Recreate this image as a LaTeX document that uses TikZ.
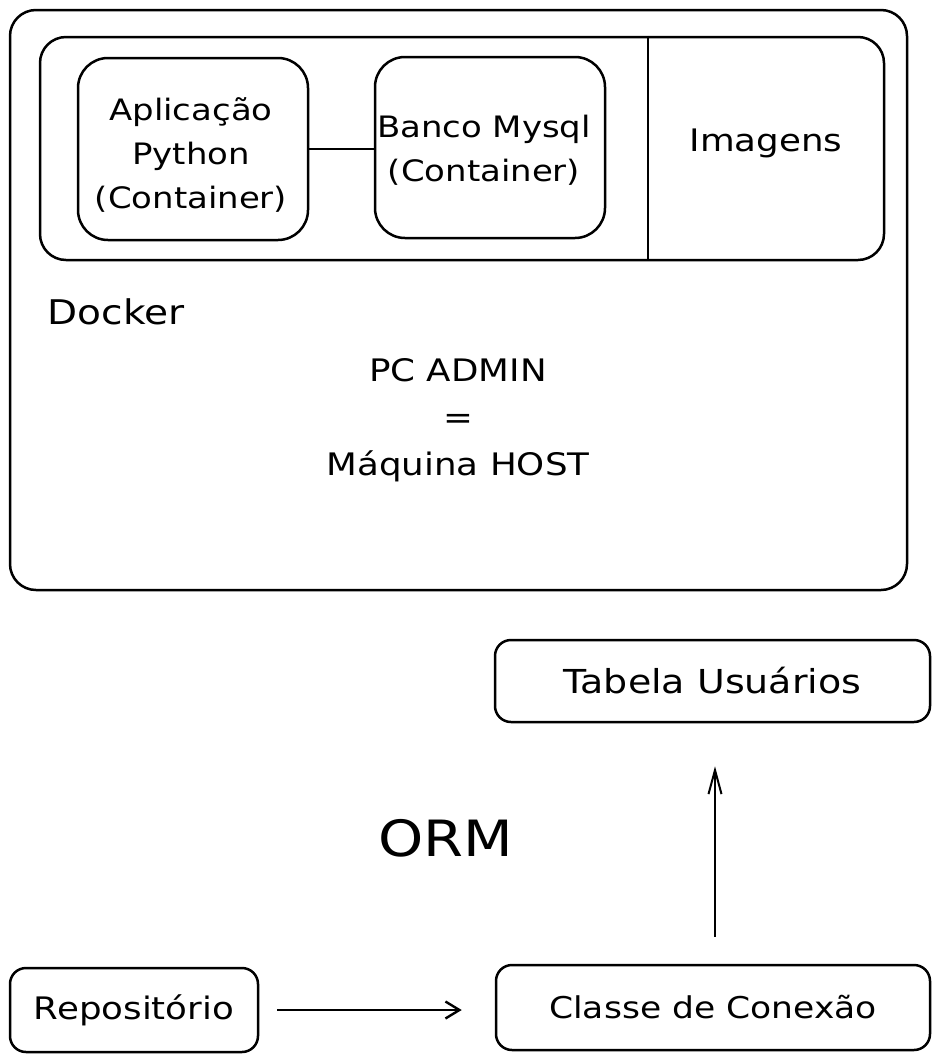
\documentclass[tikz,border=0pt]{standalone}
\usepackage{fontspec}
\setmainfont[FakeStretch=1.15]{DejaVu Sans}
\usetikzlibrary{arrows.meta}
\begin{document}
\begin{tikzpicture}[x=1pt,y=-1pt,
  box/.style={draw, line width=2.5pt, rounded corners=#1, inner sep=0pt},
  box/.default=22pt,
  lbl/.style={align=center, font=\fontsize{29.5}{44}\selectfont},
  conn/.style={line width=2.2pt},
  arr/.style={line width=2.4pt, -{Straight Barb[length=14pt,width=17pt,line width=2.4pt]}},
  arrup/.style={line width=2pt, -{Straight Barb[length=24pt,width=13pt,line width=2pt]}}]
\useasboundingbox (0,0) rectangle (939,1061);
% outer host
\node[box=26pt, minimum width=897pt, minimum height=580pt] (host) at (458.5,300) {};
% docker inner
\node[box=26pt, minimum width=844pt, minimum height=223pt] (docker) at (462,148.5) {};
\coordinate (divx) at (648,0);
\draw[line width=2.5pt] (docker.north -| divx) -- (docker.south -| divx);
% containers
\node[box=30pt, minimum width=230pt, minimum height=182pt] (app) at (193,149) {};
\node[box=30pt, minimum width=230pt, minimum height=181pt] (banco) at (490,147.5) {};
\node[lbl] (apptxt) at (191,155) {Aplicação\\Python\\(Container)};
\node[lbl] (bancotxt) at (484,150) {Banco Mysql\\(Container)};
\draw[conn] (app.east) -- (app.east -| banco.west);
\node[lbl, font=\fontsize{31}{44}\selectfont] (imagens) at (766,143) {Imagens};
% labels
\node[lbl, font=\fontsize{34}{44}\selectfont, anchor=west] (dockerlbl) at (44,312) {Docker};
\node[lbl, font=\fontsize{31}{47}\selectfont] (pc) at (458,420) {PC ADMIN\\=\\Máquina HOST};
% lower part
\node[box=16pt, minimum width=435pt, minimum height=82pt] (tabela) at (712.5,681) {};
\node[lbl, font=\fontsize{33}{44}\selectfont] (tabelatxt) at (tabela.center) {Tabela Usuários};
\node[box=16pt, minimum width=248pt, minimum height=84pt] (repo) at (134,1010) {};
\node[lbl, font=\fontsize{31}{44}\selectfont] (repotxt) at (repo.center) {Repositório};
\node[box=16pt, minimum width=434pt, minimum height=85pt] (classe) at (713,1007.5) {};
\node[lbl, font=\fontsize{30}{44}\selectfont] (classetxt) at (classe.center) {Classe de Conexão};
\node[lbl, font=\fontsize{50}{60}\selectfont] (orm) at (446,838) {ORM};
% connectors
\draw[arr, shorten <=18pt, shorten >=33pt] (repo.east) -- (repo.east -| classe.west);
\coordinate (upx) at (715,0);
\draw[arrup, shorten <=27pt, shorten >=43pt] (classe.north -| upx) -- (tabela.south -| upx);
\end{tikzpicture}
\end{document}
